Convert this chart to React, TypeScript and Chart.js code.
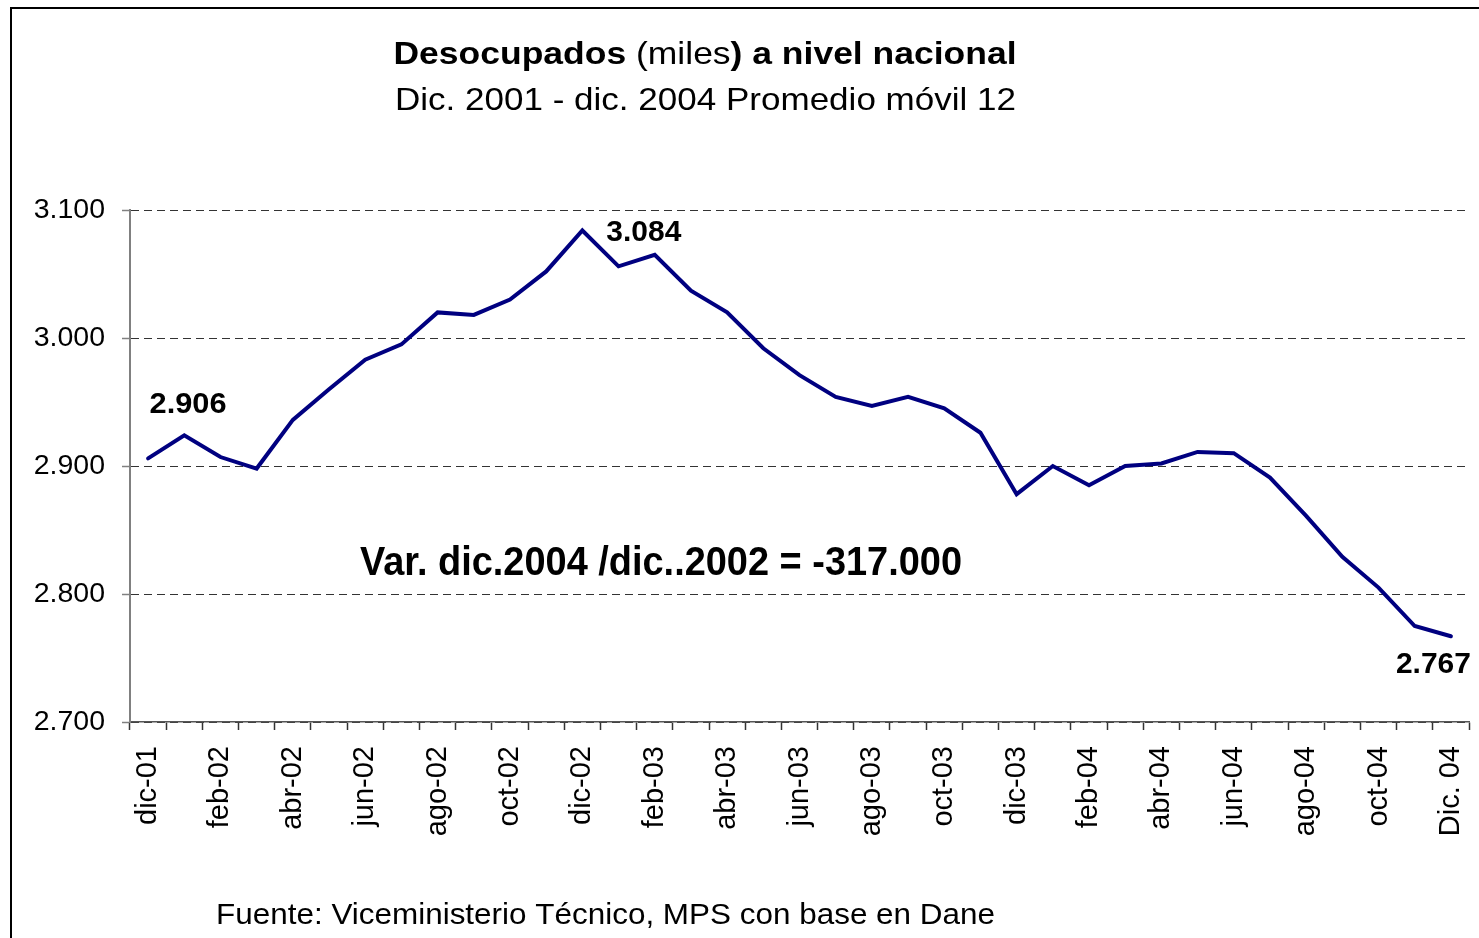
import React, { useEffect, useRef } from "react";
import { Chart, registerables } from "chart.js";

Chart.register(...registerables);

const categories: string[] = [
  "dic-01", "ene-02", "feb-02", "mar-02", "abr-02", "may-02", "jun-02", "jul-02", "ago-02", "sep-02", "oct-02", "nov-02",
  "dic-02", "ene-03", "feb-03", "mar-03", "abr-03", "may-03", "jun-03", "jul-03", "ago-03", "sep-03", "oct-03", "nov-03",
  "dic-03", "ene-04", "feb-04", "mar-04", "abr-04", "may-04", "jun-04", "jul-04", "ago-04", "sep-04", "oct-04", "nov-04",
  "Dic. 04",
];

const desocupados: number[] = [
  2906, 2924, 2907, 2898, 2936, 2960, 2983, 2995, 3020, 3018, 3030, 3052,
  3084, 3056, 3065, 3037, 3020, 2992, 2971, 2954, 2947, 2954, 2945, 2926,
  2878, 2900, 2885, 2900, 2902, 2911, 2910, 2891, 2861, 2829, 2805, 2775,
  2767,
];

const labeledIndices: number[] = [0, 12, 36];

const yTicks: number[] = [2700, 2800, 2900, 3000, 3100];

const titleBold1 = "Desocupados";
const titleNormal = " (miles";
const titleBold2 = ") a nivel nacional";
const subtitle = "Dic. 2001 - dic. 2004 Promedio móvil 12";
const annotation = "Var. dic.2004 /dic..2002 = -317.000";
const footer = "Fuente: Viceministerio Técnico, MPS con base en Dane";

const FAMILY = '"Liberation Sans", Arial, Helvetica, sans-serif';

function fmt(v: number): string {
  const th = Math.floor(v / 1000);
  const rest = String(Math.round(v) % 1000).padStart(3, "0");
  return `${th}.${rest}`;
}

type Seg = { text: string; bold: boolean };

function drawFit(
  ctx: CanvasRenderingContext2D,
  segs: Seg[],
  size: number,
  x: number,
  y: number,
  align: "left" | "center" | "right",
  targetWidth: number
) {
  ctx.save();
  let total = 0;
  const widths = segs.map((s) => {
    ctx.font = `${s.bold ? "bold " : ""}${size}px ${FAMILY}`;
    const w = ctx.measureText(s.text).width;
    total += w;
    return w;
  });
  const sx = targetWidth / total;
  const W = total * sx;
  const start = align === "center" ? x - W / 2 : align === "right" ? x - W : x;
  ctx.translate(start, y);
  ctx.scale(sx, 1);
  ctx.textAlign = "left";
  ctx.textBaseline = "alphabetic";
  ctx.fillStyle = "#000";
  let cx = 0;
  segs.forEach((s, i) => {
    ctx.font = `${s.bold ? "bold " : ""}${size}px ${FAMILY}`;
    ctx.fillText(s.text, cx, 0);
    cx += widths[i];
  });
  ctx.restore();
}

const decorPlugin = {
  id: "decor",
  afterDraw(chart: any) {
    const ctx: CanvasRenderingContext2D = chart.ctx;
    // frame
    ctx.save();
    ctx.strokeStyle = "#000";
    ctx.lineWidth = 2;
    ctx.beginPath();
    ctx.moveTo(11, chart.height);
    ctx.lineTo(11, 8);
    ctx.lineTo(chart.width, 8);
    ctx.stroke();
    ctx.restore();

    // title
    drawFit(
      ctx,
      [
        { text: titleBold1, bold: true },
        { text: titleNormal, bold: false },
        { text: titleBold2, bold: true },
      ],
      32,
      705,
      64,
      "center",
      623
    );
    drawFit(ctx, [{ text: subtitle, bold: false }], 32, 705.5, 110, "center", 621);

    // annotation
    drawFit(ctx, [{ text: annotation, bold: true }], 40, 360, 575, "left", 602);

    // footer
    drawFit(ctx, [{ text: footer, bold: false }], 30, 216, 924, "left", 779);

    // data labels
    const meta = chart.getDatasetMeta(0);
    labeledIndices.forEach((idx) => {
      const pt = meta.data[idx];
      if (!pt) return;
      const txt = fmt(desocupados[idx]);
      if (idx === 0) {
        drawFit(ctx, [{ text: txt, bold: true }], 29, pt.x + 1.5, pt.y - 45, "left", 77);
      } else if (idx === labeledIndices[1]) {
        drawFit(ctx, [{ text: txt, bold: true }], 29, pt.x + 24, pt.y + 11, "left", 75);
      } else {
        drawFit(ctx, [{ text: txt, bold: true }], 29, pt.x + 20, pt.y + 37, "right", 75);
      }
    });
  },
};

export default function App() {
  const ref = useRef<HTMLCanvasElement | null>(null);

  useEffect(() => {
    if (!ref.current) return;
    const chart = new Chart(ref.current, {
      type: "line",
      data: {
        labels: categories,
        datasets: [
          {
            data: desocupados,
            borderColor: "#000080",
            backgroundColor: "#000080",
            borderWidth: 4,
            pointRadius: 0,
            tension: 0,
            borderCapStyle: "round",
            fill: false,
          },
        ],
      },
      options: {
        animation: false,
        responsive: false,
        maintainAspectRatio: false,
        layout: { padding: { left: 0, right: 10, top: 210, bottom: 0 } },
        plugins: {
          legend: { display: false },
          tooltip: { enabled: false },
          title: { display: false },
        },
        scales: {
          x: {
            type: "category",
            offset: true,
            grid: {
              offset: true,
              drawOnChartArea: false,
              drawTicks: true,
              tickLength: 8,
              tickColor: "#333",
              tickWidth: 1.5,
              color: "#333",
            },
            border: { display: true, color: "#555", width: 1.5 },
            ticks: {
              autoSkip: false,
              maxRotation: 90,
              minRotation: 90,
              padding: 16,
              color: "#000",
              font: { family: FAMILY, size: 29 },
              callback: (_v: any, i: number) => (i % 2 === 0 ? categories[i] : ""),
            },
            afterFit: (s: any) => {
              s.height = 216;
              s.paddingLeft = 0;
              s.paddingRight = 0;
            },
          },
          y: {
            min: yTicks[0],
            max: yTicks[yTicks.length - 1],
            afterBuildTicks: (s: any) => {
              s.ticks = yTicks.map((v) => ({ value: v }));
            },
            grid: {
              color: "#333",
              lineWidth: 1,
              drawTicks: true,
              tickLength: 8,
              tickColor: "#808080",
              tickWidth: 1.5,
              tickBorderDash: [],
            },
            border: { display: true, color: "#808080", width: 2, dash: [8, 5] },
            ticks: {
              padding: 17,
              color: "#000",
              font: { family: FAMILY, size: 28.5 },
              callback: (v: any) => fmt(Number(v)),
            },
            afterFit: (s: any) => {
              s.width = 130;
            },
          },
        },
      },
      plugins: [decorPlugin],
    });
    return () => chart.destroy();
  }, []);

  return (
    <div style={{ position: "fixed", left: 0, top: 0, width: 1479, height: 938, background: "#fff" }}>
      <canvas ref={ref} width={1479} height={938} style={{ width: 1479, height: 938, display: "block" }} />
    </div>
  );
}
